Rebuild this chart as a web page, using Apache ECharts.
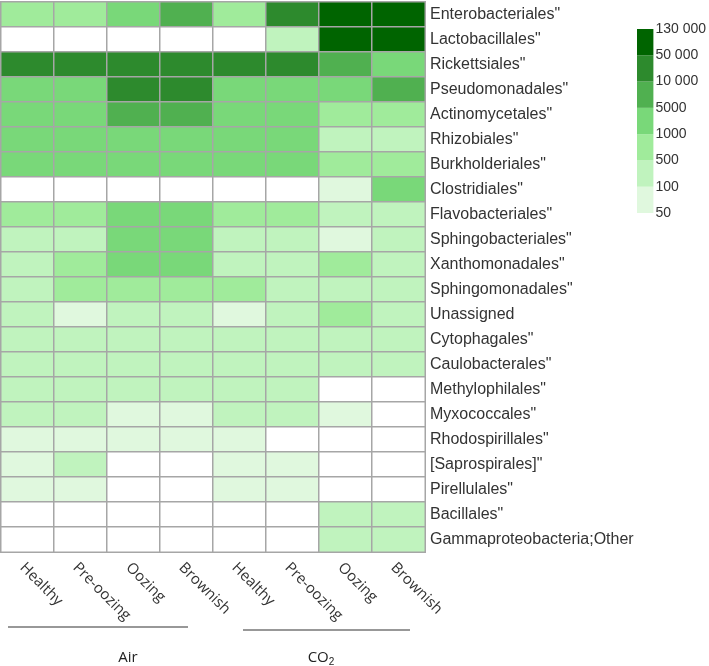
<!DOCTYPE html>
<html>
<head>
<meta charset="utf-8">
<script src="https://cdn.jsdelivr.net/npm/echarts@6/dist/echarts.min.js"></script>
<style>
html,body{margin:0;padding:0;background:#fff;}
#chart{width:709px;height:666px;}
</style>
</head>
<body>
<div id="chart"></div>
<script>
// Sample columns (Air: 4, CO2: 4)
const samples = ['Healthy', 'Pre-oozing', 'Oozing', 'Brownish', 'Healthy', 'Pre-oozing', 'Oozing', 'Brownish'];
const groups = ['Air', 'CO2'];
// Taxa (rows, top to bottom)
const taxa = ['Enterobacteriales"', 'Lactobacillales"', 'Rickettsiales"', 'Pseudomonadales"', 'Actinomycetales"',
  'Rhizobiales"', 'Burkholderiales"', 'Clostridiales"', 'Flavobacteriales"', 'Sphingobacteriales"',
  'Xanthomonadales"', 'Sphingomonadales"', 'Unassigned', 'Cytophagales"', 'Caulobacterales"',
  'Methylophilales"', 'Myxococcales"', 'Rhodospirillales"', '[Saprospirales]"', 'Pirellulales"',
  'Bacillales"', 'Gammaproteobacteria;Other'];

// Read counts per column (same order as taxa)
const airHealthy   = [800, 0, 25000, 2500, 2200, 2000, 1800, 0, 700, 300, 250, 300, 200, 220, 180, 200, 180, 80, 70, 60, 0, 0];
const airPreOozing = [750, 0, 24000, 2400, 2100, 1900, 1700, 0, 650, 280, 600, 550, 80, 210, 170, 190, 170, 75, 150, 70, 0, 0];
const airOozing    = [3000, 0, 28000, 30000, 7000, 2000, 1900, 0, 2200, 1800, 2000, 700, 250, 230, 200, 210, 80, 70, 0, 0, 0, 0];
const airBrownish  = [6500, 0, 27000, 28000, 6800, 1900, 1800, 0, 2000, 1700, 1900, 650, 240, 220, 190, 200, 75, 65, 0, 0, 0, 0];
const co2Healthy   = [700, 0, 26000, 2300, 2000, 1800, 1700, 0, 720, 260, 270, 600, 85, 210, 180, 190, 160, 70, 65, 70, 0, 0];
const co2PreOozing = [20000, 300, 25000, 2200, 1900, 1700, 1600, 0, 680, 250, 240, 300, 230, 200, 170, 180, 150, 0, 60, 65, 0, 0];
const co2Oozing    = [120000, 110000, 7500, 2000, 800, 350, 700, 70, 300, 80, 650, 280, 800, 200, 190, 0, 70, 0, 0, 0, 250, 230];
const co2Brownish  = [115000, 105000, 4000, 8000, 750, 300, 650, 3500, 280, 260, 220, 260, 240, 190, 180, 0, 0, 0, 0, 0, 240, 220];

// Legend boundaries (bottom to top)
const legendBreaks = [50, 100, 500, 1000, 5000, 10000, 50000, 130000];
const legendLabels = ['50', '100', '500', '1000', '5000', '10 000', '50 000', '130 000'];

// Styling
const levelColors = ['#e0f8de', '#c0f3be', '#a0eb9b', '#79d879', '#50b050', '#2d8a2d', '#006400'];

const columns = [airHealthy, airPreOozing, airOozing, airBrownish, co2Healthy, co2PreOozing, co2Oozing, co2Brownish];
const heatData = [];
columns.forEach((col, i) => col.forEach((v, j) => heatData.push([i, j, v])));

const pieces = [{ lt: legendBreaks[0], color: '#ffffff' }];
for (let k = 0; k < levelColors.length; k++) {
  const p = { gte: legendBreaks[k], color: levelColors[k] };
  if (k < levelColors.length - 1) p.lt = legendBreaks[k + 1];
  pieces.push(p);
}

const legendSeries = levelColors.map((c, k) => ({
  type: 'bar', xAxisIndex: 1, yAxisIndex: 1, stack: 'legend',
  barWidth: '100%', data: [1], itemStyle: { color: c }, silent: true
}));

const chart = echarts.init(document.getElementById('chart'), null, { renderer: 'canvas' });
const textFont = 'Liberation Sans, Arial, sans-serif';
chart.setOption({
  animation: false,
  backgroundColor: '#ffffff',
  grid: [
    { left: 1, top: 2, width: 424, height: 550 },
    { left: 637, top: 29, width: 18, height: 184 }
  ],
  xAxis: [
    {
      type: 'category', data: samples, gridIndex: 0, position: 'bottom',
      axisLine: { show: false }, axisTick: { show: false }, splitLine: { show: false },
      axisLabel: { interval: 0, rotate: -45, margin: 8, fontSize: 15, color: '#333',
        fontFamily: 'Open Sans, sans-serif', verticalAlign: 'top', align: 'left' }
    },
    { type: 'category', data: [''], gridIndex: 1, show: false }
  ],
  yAxis: [
    {
      type: 'category', data: taxa, gridIndex: 0, inverse: true, position: 'right',
      axisLine: { show: false }, axisTick: { show: false }, splitLine: { show: false },
      axisLabel: { margin: 5, fontSize: 16, color: '#333', fontFamily: textFont }
    },
    {
      type: 'value', gridIndex: 1, min: 0, max: 7, interval: 1, position: 'right',
      axisLine: { show: false }, axisTick: { show: false }, splitLine: { show: false },
      axisLabel: { margin: 2, fontSize: 14, color: '#333', fontFamily: textFont,
        formatter: v => legendLabels[v] }
    }
  ],
  visualMap: {
    type: 'piecewise', show: false, seriesIndex: 0, dimension: 2, pieces: pieces
  },
  series: [
    {
      type: 'heatmap', xAxisIndex: 0, yAxisIndex: 0, data: heatData,
      itemStyle: { borderColor: '#a6a6a6', borderWidth: 1.5 },
      emphasis: { disabled: true }
    }
  ].concat(legendSeries),
  graphic: [
    { type: 'line', shape: { x1: 8, y1: 627, x2: 188, y2: 627 }, style: { stroke: '#333', lineWidth: 1.2 } },
    { type: 'line', shape: { x1: 243, y1: 630, x2: 410, y2: 630 }, style: { stroke: '#333', lineWidth: 1.2 } },
    { type: 'text', x: 128, y: 658, style: { text: groups[0], fill: '#222', font: '15px Open Sans, sans-serif', align: 'center', verticalAlign: 'middle' } },
    { type: 'text', x: 321, y: 658, style: {
        text: 'CO{sub|2}', fill: '#222', font: '15px Open Sans, sans-serif', align: 'center', verticalAlign: 'middle',
        rich: { sub: { fontSize: 10, verticalAlign: 'bottom', padding: [8, 0, 0, 0], fill: '#222' } } } }
  ]
});
</script>
</body>
</html>
